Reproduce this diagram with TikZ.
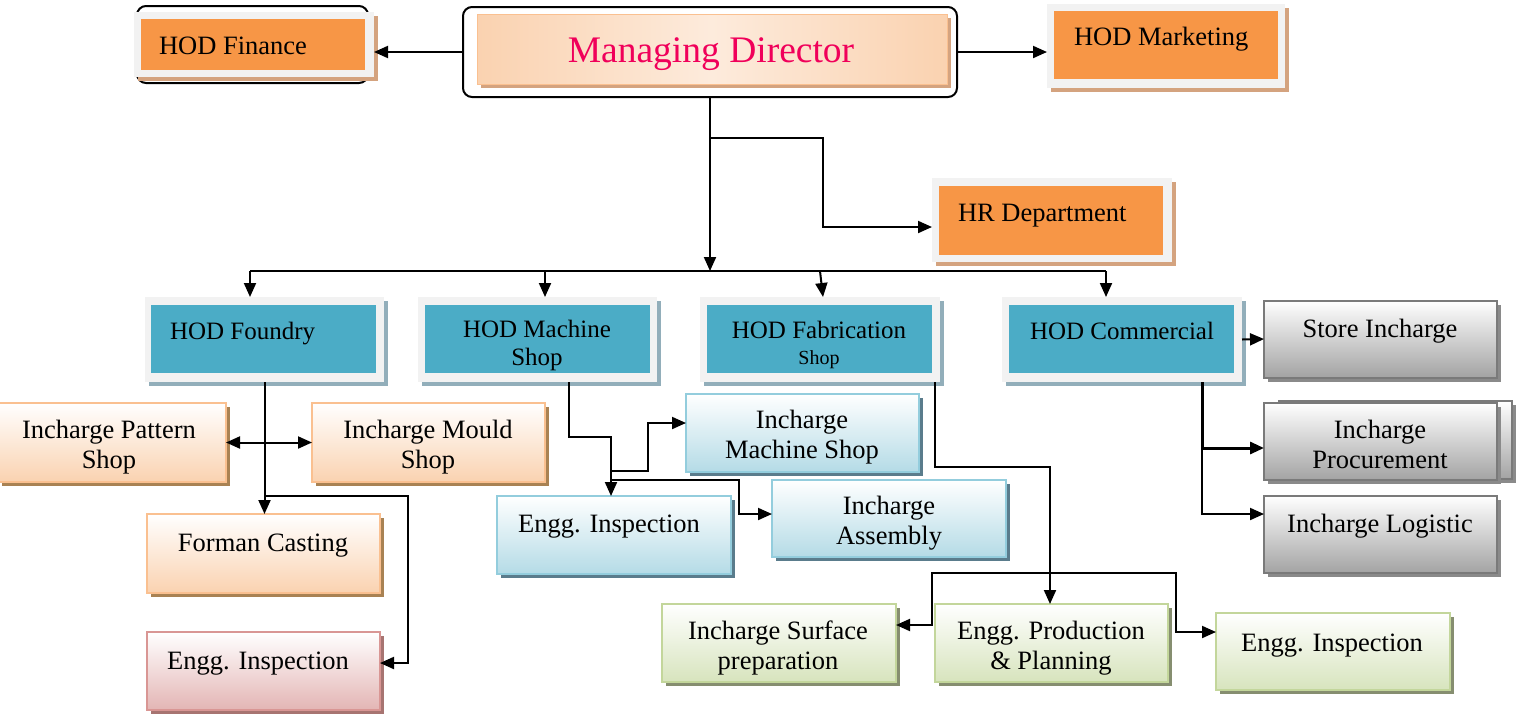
\documentclass[tikz,border=0pt]{standalone}
\usepackage{fontspec}
\setmainfont{Liberation Serif}
\usetikzlibrary{shadows,arrows.meta}
\definecolor{cOrange}{HTML}{F79646}
\definecolor{cFrame}{HTML}{F2F2F2}
\definecolor{cTan}{HTML}{D4A37F}
\definecolor{cTeal}{HTML}{4BACC6}
\definecolor{cTealSh}{HTML}{92AEBA}
\definecolor{cMD}{HTML}{F0005A}
\definecolor{cPeachBd}{HTML}{FAC090}
\definecolor{cPeach}{HTML}{FAD2B0}
\definecolor{cPeachLt}{HTML}{FDEBDC}
\definecolor{cPeachSh}{HTML}{A98253}
\definecolor{cRedBd}{HTML}{D99694}
\definecolor{cRed}{HTML}{E3B5B4}
\definecolor{cRedSh}{HTML}{A77471}
\definecolor{cBlueBd}{HTML}{93CDDD}
\definecolor{cBlue}{HTML}{B4DBE6}
\definecolor{cBlueSh}{HTML}{5A7C8C}
\definecolor{cGrayBd}{HTML}{7A7A7A}
\definecolor{cGray}{HTML}{A3A3A3}
\definecolor{cGraySh}{HTML}{8A8A8A}
\definecolor{cGreenBd}{HTML}{C3D69B}
\definecolor{cGreen}{HTML}{D7E4BD}
\definecolor{cGreenSh}{HTML}{868E70}
\tikzset{
  every node/.style={inner sep=0pt, outer sep=0pt},
  sz/.style 2 args={minimum width=#1pt, minimum height=#2pt},
  shd/.style={drop shadow={shadow xshift=4pt, shadow yshift=-4pt, fill=#1, opacity=1}},
  orgframe/.style={fill=cFrame, shd=cTan},
  orgfill/.style={fill=cOrange},
  tealframe/.style={fill=cFrame, shd=cTealSh},
  tealfill/.style={fill=cTeal},
  peachbox/.style={draw=cPeachBd, line width=2pt, top color=white, bottom color=cPeach, shd=cPeachSh},
  redbox/.style={draw=cRedBd, line width=2pt, top color=white, bottom color=cRed, shd=cRedSh},
  bluebox/.style={draw=cBlueBd, line width=2pt, top color=white, bottom color=cBlue, shd=cBlueSh},
  graybox/.style={draw=cGrayBd, line width=2pt, top color=white, bottom color=cGray, shd=cGraySh},
  greenbox/.style={draw=cGreenBd, line width=2pt, top color=white, bottom color=cGreen, shd=cGreenSh},
  blackround/.style={draw=black, line width=2pt, rounded corners=9pt, fill=white},
  ln/.style={line width=2pt, draw=black},
  arr/.style={line width=2pt, draw=black, -{Triangle[length=14pt,width=12pt]}},
  arrtwo/.style={line width=2pt, draw=black, {Triangle[length=14pt,width=12pt]}-{Triangle[length=14pt,width=12pt]}},
  tx/.style={font=\fontsize{26.5}{30}\selectfont, align=center, anchor=base},
  txl/.style={font=\fontsize{26.5}{30}\selectfont, anchor=base west},
  txh/.style={font=\fontsize{25}{28}\selectfont, align=center, anchor=base},
}
\begin{document}
\begin{tikzpicture}[x=1pt,y=-1pt]
\useasboundingbox (0,0) rectangle (1523,713);
% ---------- top row
\node[blackround, sz={231}{77}] (finout) at (252.5,44.5) {};
\node[orgframe, sz={240}{65}] (finfr) at (254,44.5) {};
\node[orgfill, sz={224}{51}] (fin) at (253,44.5) {};
\node[txl] (finT) at (159,54) {HOD Finance};

\node[blackround, sz={494}{90}] (mdout) at (710,52) {};
\node[draw=cPeachBd, line width=1pt, left color=cPeach, right color=cPeach, middle color=cPeachLt, shd=cTan, sz={470}{70}] (md) at (712,49) {};
\node[font=\fontsize{37.5}{42}\selectfont, text=cMD, anchor=base] (mdT) at (711,62) {Managing Director};

\node[orgframe, sz={238}{84}] (mktfr) at (1166,46) {};
\node[orgfill, sz={224}{68}] (mkt) at (1166,45) {};
\node[txl] (mktT) at (1074,45) {HOD Marketing};

\node[orgframe, sz={240}{84}] (hrfr) at (1052,220) {};
\node[orgfill, sz={224}{69}] (hr) at (1051,220.5) {};
\node[txl] (hrT) at (958,221) {HR Department};

% ---------- HOD row
\node[tealframe, sz={239}{85}] (fdyfr) at (264.5,339.5) {};
\node[tealfill, sz={225}{68}] (fdy) at (263.5,339) {};
\node[txh, anchor=base west] (fdyT) at (170,339) {HOD Foundry};

\node[tealframe, sz={239}{85}] (machfr) at (537.5,339.5) {};
\node[tealfill, sz={225}{68}] (mach) at (537.5,339) {};
\node[txh] (machT) at (537,365) {HOD Machine\\Shop};

\node[tealframe, sz={240}{85}] (fabfr) at (820,339.5) {};
\node[tealfill, sz={225}{68}] (fab) at (819.5,339) {};
\node[txh] (fabT) at (819,338) {HOD Fabrication};
\node[font=\fontsize{20}{24}\selectfont, anchor=base] (fabT2) at (819,364) {Shop};

\node[tealframe, sz={240}{85}] (commfr) at (1122,339.5) {};
\node[tealfill, sz={225}{68}] (comm) at (1121.5,339) {};
\node[txh, anchor=base west] (commT) at (1030,339) {HOD Commercial};

% ---------- commercial children
\node[graybox, sz={233}{77}] (store) at (1380.5,339) {};
\node[tx] (storeT) at (1380,337) {Store Incharge};
\node[graybox, sz={233}{78}] (procb) at (1395.5,440) {};
\node[graybox, sz={233}{77}] (proc) at (1380.5,441.5) {};
\node[tx] (procT) at (1380,468) {Incharge\\Procurement};
\node[graybox, sz={233}{77}] (log) at (1380.5,534.5) {};
\node[tx] (logT) at (1380,532) {Incharge Logistic};

% ---------- foundry children
\node[peachbox, sz={228}{79}] (pat) at (112,442.5) {};
\node[tx] (patT) at (109,468) {Incharge Pattern\\Shop};
\node[peachbox, sz={233}{79}] (mld) at (428.5,442.5) {};
\node[tx] (mldT) at (428,468) {Incharge Mould\\Shop};
\node[peachbox, sz={233}{79}] (frm) at (263.5,553.5) {};
\node[tx] (frmT) at (263,551) {Forman Casting};
\node[redbox, sz={233}{78}] (engR) at (263.5,671) {};
\node[tx] (engRT) at (258,669) {Engg. Inspection};

% ---------- machine shop children
\node[bluebox, sz={233}{78}] (ims) at (802.5,433) {};
\node[tx] (imsT) at (802,458) {Incharge\\Machine Shop};
\node[bluebox, sz={234}{78}] (engB) at (614,535) {};
\node[tx] (engBT) at (609,532) {Engg. Inspection};
\node[bluebox, sz={234}{77}] (asm) at (889,518.5) {};
\node[tx] (asmT) at (889,544) {Incharge\\Assembly};

% ---------- fabrication children
\node[greenbox, sz={234}{78}] (surf) at (779,643) {};
\node[tx] (surfT) at (778,669) {Incharge Surface\\preparation};
\node[greenbox, sz={233}{78}] (pp) at (1051.5,643) {};
\node[tx] (ppT) at (1051,669) {Engg. Production\\\& Planning};
\node[greenbox, sz={234}{77}] (engG) at (1333,651.5) {};
\node[tx] (engGT) at (1332,651) {Engg. Inspection};

% ---------- connectors
\draw[arr] (mdout.west) -- (mdout.west -| finfr.east);
\draw[arr] (mdout.east) -- (mdout.east -| mktfr.west);
\coordinate (bus) at (710,271);
\draw[arr] (mdout.south) -- (bus);
\coordinate (hrj) at (710,138);
\draw[arr] (hrj) -| (823,227) -- ([yshift=-7pt]hrfr.west);
\coordinate (b1) at (250,271);
\coordinate (b2) at (545,271);
\coordinate (b3) at (820,271);
\coordinate (b4) at (1106,271);
\draw[ln] (b1) -- (b4);
\draw[arr] (b1) -- ([xshift=-14.5pt]fdyfr.north);
\draw[arr] (b2) -- ([xshift=7.5pt]machfr.north);
\draw[arr] (b3) -- ([xshift=3pt]fabfr.north);
\draw[arr] (b4) -- ([xshift=-16pt]commfr.north);

% foundry
\draw[arr] (fdyfr.south) -- (fdyfr.south |- frm.north);
\coordinate (fj) at (264.5,496);
\draw[arr] (fj) -| (408,663) -- ([yshift=8pt]engR.east);
\draw[arrtwo] (pat.east) -- (mld.west);

% machine shop
\draw[arr] ([xshift=31.5pt]machfr.south) -- ++(0,55) -| ([xshift=-3pt]engB.north);
\coordinate (mj1) at (611,471);
\draw[arr] (mj1) -| (648,423) -- ([yshift=10pt]ims.west);
\coordinate (mj2) at (611,480);
\draw[arr] (mj2) -| (739,514) -- ([yshift=4.5pt]asm.west);

% fabrication
\draw[arr] ([xshift=115pt]fabfr.south) -- ++(0,85) -| ([xshift=-1.5pt]pp.north);
\coordinate (pj) at (1050,573);
\draw[arr] (pj) -| (932,625) -- ([yshift=18pt]surf.east);
\draw[arr] (pj) -| (1176,632) -- ([yshift=19.5pt]engG.west);

% commercial
\draw[arr] (commfr.east) -- (store.west);
\draw[arr, line width=3pt] ([xshift=80pt]commfr.south) |- ([yshift=-6.5pt]proc.west);
\draw[arr] ([xshift=80pt]commfr.south) |- ([yshift=20.5pt]log.west);
\end{tikzpicture}
\end{document}
